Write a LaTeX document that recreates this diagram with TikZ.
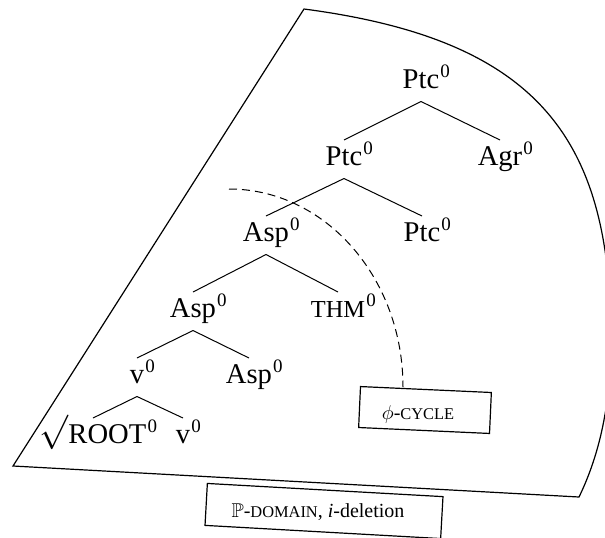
\documentclass[tikz,border=0pt]{standalone}
\usepackage{amsmath,amssymb}
\usepackage{fontspec}
\setmainfont{Liberation Serif}
\newcommand{\hd}[1]{#1\rlap{\hspace{0.6pt}\raisebox{5.5pt}{\fontsize{9.5}{10}\selectfont 0}}}
\newcommand{\fsc}[1]{{\fontsize{12.2}{14}\selectfont #1}}
\newcommand{\tsc}[1]{{\fontsize{8.2}{10}\selectfont #1}}

\begin{document}
\begin{tikzpicture}[x=0.5pt, y=-0.5pt, line width=0.5pt,
  headnode/.style={inner sep=0pt, outer sep=0pt, anchor=base, text height=12.5pt, text depth=6.75pt, font=\fontsize{14.3}{16}\selectfont},
  tagbox/.style={draw, line width=0.6pt, inner sep=0pt},
  tagtext/.style={inner sep=0pt, anchor=base, font=\fontsize{10}{12}\selectfont}]
  \useasboundingbox (0,0) rectangle (605,537);

  % domain outline
  \draw[line width=0.6pt] (13,466) -- (304,9)
    .. controls (540,40) and (611,140) .. (611,340)
    .. controls (611,410) and (597,460) .. (579,497) -- cycle;

  % heads
  \node[headnode] (ptc1) at (421,88) {\hd{Ptc}};
  \node[headnode] (ptc2) at (344,165) {\hd{Ptc}};
  \node[headnode] (agr) at (500,165) {\hd{Agr}};
  \node[headnode] (asp1) at (266,241) {\hd{Asp}};
  \node[headnode] (ptc3) at (422,241) {\hd{Ptc}};
  \node[headnode] (asp2) at (193,317) {\hd{Asp}};
  \node[headnode] (thm) at (338,317) {\hd{\fsc{THM}}};
  \node[headnode] (v1) at (137,383) {\hd{v}};
  \node[headnode] (asp3) at (249,383) {\hd{Asp}};
  \node[headnode] (root) at (93,443) {\hd{\raisebox{1pt}{\fontsize{17}{19}\selectfont$\surd$}ROOT}};
  \node[headnode] (v2) at (183,443) {\hd{v}};

  % branches
  \draw (ptc1.south) -- (ptc2.north);
  \draw (ptc1.south) -- (agr.north);
  \draw (ptc2.south) -- (asp1.north);
  \draw (ptc2.south) -- (ptc3.north);
  \draw (asp1.south) -- (asp2.north);
  \draw (asp1.south) -- (thm.north);
  \draw (asp2.south) -- (v1.north);
  \draw (asp2.south) -- (asp3.north);
  \draw (v1.south) -- (root.north);
  \draw (v1.south) -- (v2.north);

  % phi-cycle
  \node[tagbox, rotate=-2.6, minimum width=65.5pt, minimum height=20.5pt] (cyc) at (425,410) {};
  \node[tagtext] (cyclbl) at (418,419) {$\phi$-\tsc{CYCLE}};
  \coordinate (cycstart) at (229,189);
  \draw[dash pattern=on 4pt off 2.5pt] (cycstart) arc[start angle=-90, end angle=0, x radius=174, y radius=198];

  % P-domain
  \node[tagbox, rotate=-3.2, minimum width=118pt, minimum height=21pt] (dom) at (324,511) {};
  \node[tagtext] (domlbl) at (318,517) {$\mathbb{P}$-\tsc{DOMAIN}, \textit{i}-deletion};
\end{tikzpicture}
\end{document}
